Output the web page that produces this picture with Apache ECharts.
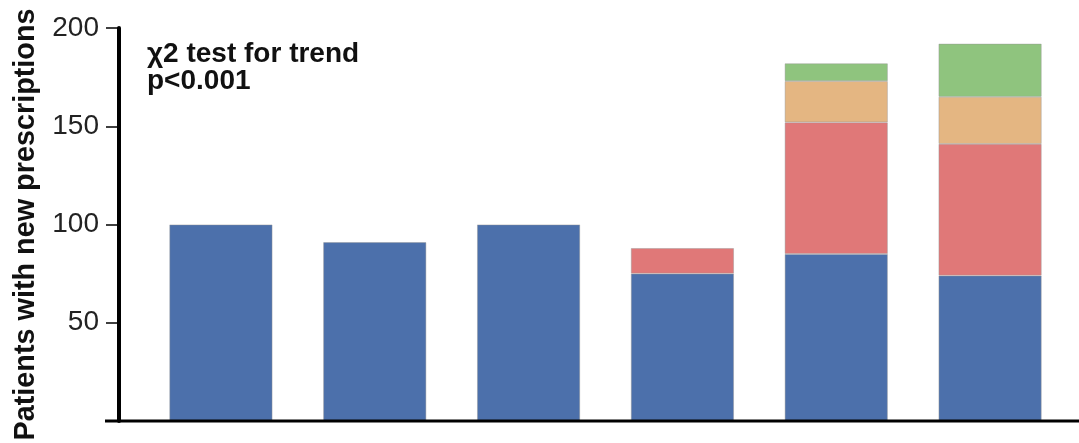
<!DOCTYPE html>
<html>
<head>
<meta charset="utf-8">
<script src="https://cdn.jsdelivr.net/npm/echarts@6/dist/echarts.min.js"></script>
<style>
  html, body { margin: 0; padding: 0; background: #fff; }
  #chart { width: 1079px; height: 443px; }
</style>
</head>
<body>
<div id="chart"></div>
<script>
// Six groups of patients, stacked by the kind of new prescription
const categories = ['1', '2', '3', '4', '5', '6'];
const seriesA = [100, 91, 100, 75, 85, 74];
const seriesB = ['-', '-', '-', 13, 67, 67];
const seriesC = ['-', '-', '-', '-', 21, 24];
const seriesD = ['-', '-', '-', '-', 9, 27];
const yTicks = [50, 100, 150, 200];

const colors = ['#4c70ab', '#e07878', '#e4b682', '#8fc47e'];
const FONT = '"Liberation Sans", Arial, Helvetica, sans-serif';

const chart = echarts.init(document.getElementById('chart'));

function barSeries(name, data, color) {
  return {
    name: name,
    type: 'bar',
    stack: 'total',
    data: data,
    barWidth: '67%',
    itemStyle: {
      color: color,
      borderColor: 'rgba(150,150,150,0.55)',
      borderWidth: 0.8
    },
    emphasis: { disabled: true }
  };
}

chart.setOption({
  animation: false,
  backgroundColor: '#ffffff',
  grid: {
    left: 144, right: 12, top: 28, bottom: 22,
    containLabel: false,
    outerBoundsMode: 'none'
  },
  xAxis: {
    type: 'category',
    data: categories,
    axisLine: { show: false },
    axisTick: { show: false },
    axisLabel: { show: false },
    splitLine: { show: false }
  },
  yAxis: {
    type: 'value',
    min: 0,
    max: 200,
    interval: 50,
    offset: 25,
    name: 'Patients with new prescriptions',
    nameLocation: 'middle',
    nameGap: 78,
    nameRotate: 90,
    nameTextStyle: {
      fontFamily: FONT,
      fontSize: 28.8,
      fontWeight: 'bold',
      color: '#111'
    },
    axisLine: { show: true, lineStyle: { color: '#000', width: 4 } },
    axisTick: {
      show: true,
      length: 13,
      lineStyle: { color: '#000', width: 1.5 },
      customValues: yTicks
    },
    axisLabel: {
      fontFamily: FONT,
      fontSize: 28,
      color: '#222',
      margin: 20,
      customValues: yTicks
    },
    splitLine: { show: false }
  },
  series: [
    barSeries('A', seriesA, colors[0]),
    barSeries('B', seriesB, colors[1]),
    barSeries('C', seriesC, colors[2]),
    barSeries('D', seriesD, colors[3])
  ]
});

// Baseline along y = 0, extending past the value axis to the right edge
const y0 = chart.convertToPixel({ yAxisIndex: 0 }, 0);
chart.setOption({
  graphic: [
    {
      type: 'line',
      shape: { x1: 105, y1: y0, x2: 1079, y2: y0 },
      style: { stroke: '#000', lineWidth: 3 },
      z: 10
    },
    {
      type: 'text',
      left: 147,
      top: 40,
      style: {
        text: 'χ2 test for trend\np<0.001',
        font: 'bold 28px ' + FONT,
        fill: '#111',
        lineHeight: 27
      },
      z: 10
    }
  ]
});
</script>
</body>
</html>
